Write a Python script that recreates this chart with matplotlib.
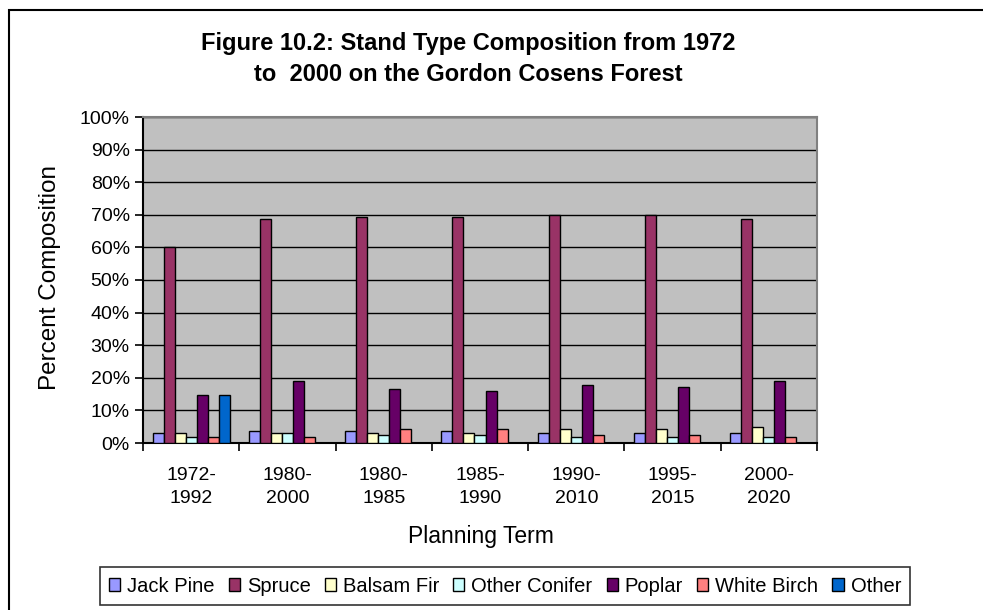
import numpy as np
import matplotlib
matplotlib.use('Agg')
import matplotlib.pyplot as plt
from matplotlib.patches import Rectangle

plt.rcParams['font.family'] = ['Liberation Sans', 'DejaVu Sans']

# dados (percentual)
termos = ['1972-\n1992', '1980-\n2000', '1980-\n1985', '1985-\n1990',
          '1990-\n2010', '1995-\n2015', '2000-\n2020']
especies = ['Jack Pine', 'Spruce', 'Balsam Fir', 'Other Conifer',
            'Poplar', 'White Birch', 'Other']
jack_pine = [3.1, 3.6, 3.6, 3.6, 3.1, 3.1, 3.1]
spruce = [60.0, 68.8, 69.3, 69.3, 70.0, 70.0, 68.8]
balsam_fir = [3.1, 3.1, 3.1, 3.1, 4.2, 4.2, 4.8]
other_conifer = [1.7, 3.1, 2.5, 2.5, 1.7, 1.7, 1.7]
poplar = [14.6, 18.9, 16.6, 16.0, 17.7, 17.1, 18.9]
white_birch = [1.7, 1.7, 4.2, 4.2, 2.5, 2.5, 1.7]
other = [14.6, 0, 0, 0, 0, 0, 0]
cores = ['#9999FF', '#993366', '#FFFFCC', '#CCFFFF', '#660066', '#FF8080', '#0066CC']

series = [jack_pine, spruce, balsam_fir, other_conifer, poplar, white_birch, other]

fig = plt.figure(figsize=(9.83, 6.10), dpi=100)
ax = fig.add_axes([143/983, 1-443/610, (817-143)/983, (443-117)/610])
ax.set_facecolor('#C0C0C0')

x = np.arange(len(termos))
largura = 0.8 / len(series)
for i, (valores, nome, cor) in enumerate(zip(series, especies, cores)):
    pos = x - 0.4 + largura * (i + 0.5)
    ax.bar(pos, valores, largura, color=cor, edgecolor='black', linewidth=1.0,
           label=nome, zorder=3)

ax.set_ylim(0, 100)
ax.set_xlim(-0.5, len(termos) - 0.5)
ax.set_yticks(np.arange(0, 101, 10))
ax.set_yticklabels([f'{v}%' for v in range(0, 101, 10)], fontsize=14)
ax.yaxis.grid(True, color='black', linewidth=1.0, zorder=0)
ax.set_axisbelow(True)

ax.set_xticks(np.arange(len(termos) + 1) - 0.5)
ax.set_xticklabels([])
ax.set_xticks(x, minor=True)
ax.set_xticklabels(termos, minor=True, fontsize=14, linespacing=1.5)
ax.tick_params(axis='x', which='minor', length=0, pad=17)
ax.tick_params(axis='both', which='major', length=6, width=1.2, direction='out', color='black')

for lado in ['top', 'right']:
    ax.spines[lado].set_color('#808080')
    ax.spines[lado].set_linewidth(1.5)
for lado in ['left', 'bottom']:
    ax.spines[lado].set_color('black')
    ax.spines[lado].set_linewidth(1.5)

ax.set_ylabel('Percent Composition', fontsize=17.5)
ax.yaxis.set_label_coords(50/983, 1-277/610, transform=fig.transFigure)
ax.set_xlabel('Planning Term', fontsize=16.5)
ax.xaxis.set_label_coords(481/983, 1-537/610, transform=fig.transFigure)
ax.xaxis.label.set_va('center')
ax.yaxis.label.set_va('center')

fig.text(468/983, 1-59/610,
         'Figure 10.2: Stand Type Composition from 1972\nto  2000 on the Gordon Cosens Forest',
         ha='center', va='center', fontsize=17, fontweight='bold', linespacing=1.4)

leg = fig.legend(loc='center', bbox_to_anchor=(505/983, 1-586/610), ncol=7,
                 fontsize=14.5, frameon=True, fancybox=False, shadow=False,
                 handlelength=0.55, handleheight=0.6, handletextpad=0.35,
                 columnspacing=0.7, borderpad=0.45, borderaxespad=0)
leg.get_frame().set_edgecolor('black')
leg.get_frame().set_linewidth(1.2)

# moldura externa da área do gráfico
fig.add_artist(Rectangle((9/983, -0.1), 2, 1 - 10/610 + 0.1, transform=fig.transFigure,
                         fill=False, edgecolor='black', linewidth=1.5))

fig.savefig('out.png', dpi=100)
